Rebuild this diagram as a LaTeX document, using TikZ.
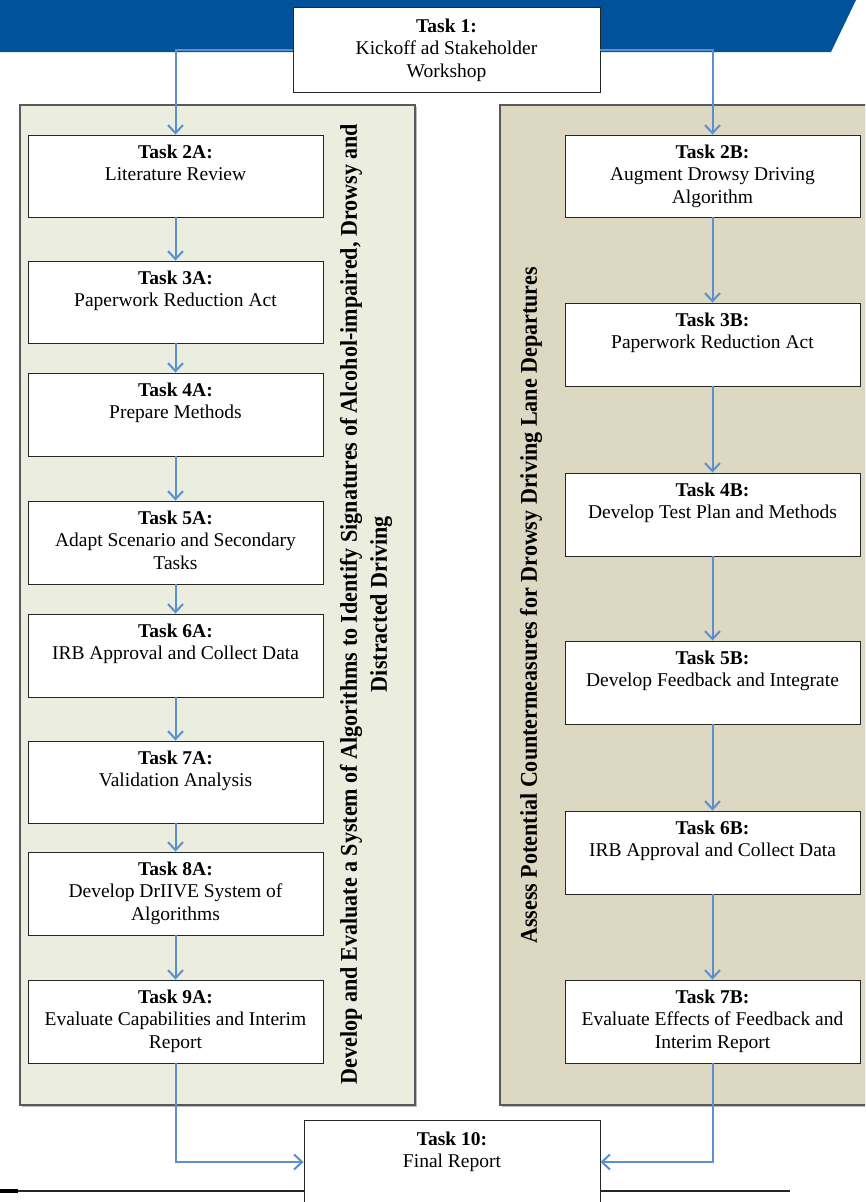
\documentclass[tikz,border=0pt]{standalone}
\usepackage{fontspec}
\setmainfont{Liberation Serif}
\newfontfamily\condserif[FakeStretch=0.92]{Liberation Serif}
\usetikzlibrary{arrows.meta,shadows}
\definecolor{banner}{HTML}{00529B}
\definecolor{panelA}{HTML}{EBEEDF}
\definecolor{panelB}{HTML}{DDD8C2}
\definecolor{arrowblue}{HTML}{5B8FD2}
\tikzset{
  panel/.style={draw=black!65, line width=1.2pt, drop shadow={shadow xshift=1.5pt, shadow yshift=-1.5pt, fill=black!45, opacity=0.6}},
  taskbox/.style={draw=black!85, line width=0.9pt, fill=white, inner sep=0pt,
     drop shadow={shadow xshift=1.2pt, shadow yshift=-1.2pt, fill=black!40, opacity=0.5},
     font=\fontsize{19.5}{22.5}\selectfont},
  flow/.style={draw=arrowblue, line width=2pt, -{Straight Barb[length=8pt,width=15pt,line width=2pt]}},
  vtitle/.style={rotate=90, align=center, font=\condserif\bfseries\fontsize{24}{30}\selectfont}
}
\begin{document}
\begin{tikzpicture}[x=1pt,y=-1pt]
\useasboundingbox (0,0) rectangle (865,1202);
\clip (0,0) rectangle (865,1202);
% banner
\fill[banner] (0,0) -- (856,0) -- (831,52) -- (0,52) -- cycle;
% panels
\path[panel, fill=panelA] (20,105) rectangle (415,1105);
\path[panel, fill=panelB] (500,105) rectangle (868,1105);
% bottom rule
\draw[black!85, line width=2.5pt] (0,1191) -- (790,1191);
\draw[black, line width=3.5pt] (0,1191) -- (18,1191);
% panel titles
\node[vtitle] (titleA) at (366,604)
  {Develop and Evaluate a System of Algorithms to Identify Signatures of Alcohol-impaired, Drowsy and\\ Distracted Driving};
\node[vtitle] (titleB) at (531,605.5)
  {Assess Potential Countermeasures for Drowsy Driving Lane Departures};
% Task 1 and Task 10
\node[taskbox] (t1) at (446.5,49.5)
  {\parbox[c][85pt][t]{307pt}{\centering\rule{0pt}{25pt}\textbf{Task 1:}\\Kickoff ad Stakeholder\\Workshop}};
\node[taskbox] (t10) at (452,1162)
  {\parbox[c][84pt][t]{296pt}{\centering\rule{0pt}{25pt}\textbf{Task 10:}\\Final Report}};
% left column
\node[taskbox] (t2a) at (175.5,176)
  {\parbox[c][82pt][t]{295pt}{\centering\rule{0pt}{23pt}\textbf{Task 2A:}\\Literature Review}};
\node[taskbox] (t3a) at (175.5,302)
  {\parbox[c][82pt][t]{295pt}{\centering\rule{0pt}{23pt}\textbf{Task 3A:}\\Paperwork Reduction Act}};
\node[taskbox] (t4a) at (175.5,414.5)
  {\parbox[c][83pt][t]{295pt}{\centering\rule{0pt}{23pt}\textbf{Task 4A:}\\Prepare Methods}};
\node[taskbox] (t5a) at (175.5,542.5)
  {\parbox[c][83pt][t]{295pt}{\centering\rule{0pt}{23pt}\textbf{Task 5A:}\\Adapt Scenario and Secondary\\Tasks}};
\node[taskbox] (t6a) at (175.5,655.5)
  {\parbox[c][83pt][t]{295pt}{\centering\rule{0pt}{23pt}\textbf{Task 6A:}\\IRB Approval and Collect Data}};
\node[taskbox] (t7a) at (175.5,782)
  {\parbox[c][82pt][t]{295pt}{\centering\rule{0pt}{23pt}\textbf{Task 7A:}\\Validation Analysis}};
\node[taskbox] (t8a) at (175.5,893.5)
  {\parbox[c][83pt][t]{295pt}{\centering\rule{0pt}{23pt}\textbf{Task 8A:}\\Develop DrIIVE System of\\Algorithms}};
\node[taskbox] (t9a) at (175.5,1021.5)
  {\parbox[c][83pt][t]{295pt}{\centering\rule{0pt}{23pt}\textbf{Task 9A:}\\Evaluate Capabilities and Interim\\Report}};
% right column
\node[taskbox] (t2b) at (712.5,176)
  {\parbox[c][82pt][t]{295pt}{\centering\rule{0pt}{23pt}\textbf{Task 2B:}\\Augment Drowsy Driving\\Algorithm}};
\node[taskbox] (t3b) at (712.5,344.5)
  {\parbox[c][83pt][t]{295pt}{\centering\rule{0pt}{23pt}\textbf{Task 3B:}\\Paperwork Reduction Act}};
\node[taskbox] (t4b) at (712.5,514.5)
  {\parbox[c][83pt][t]{295pt}{\centering\rule{0pt}{23pt}\textbf{Task 4B:}\\Develop Test Plan and Methods}};
\node[taskbox] (t5b) at (712.5,682.5)
  {\parbox[c][83pt][t]{295pt}{\centering\rule{0pt}{23pt}\textbf{Task 5B:}\\Develop Feedback and Integrate}};
\node[taskbox] (t6b) at (712.5,852.5)
  {\parbox[c][83pt][t]{295pt}{\centering\rule{0pt}{23pt}\textbf{Task 6B:}\\IRB Approval and Collect Data}};
\node[taskbox] (t7b) at (712.5,1021.5)
  {\parbox[c][83pt][t]{295pt}{\centering\rule{0pt}{23pt}\textbf{Task 7B:}\\Evaluate Effects of Feedback and\\Interim Report}};
% connectors
\draw[flow] (t1.west) -| (t2a.north);
\draw[flow] (t1.east) -| (t2b.north);
\foreach \a/\b in {t2a/t3a,t3a/t4a,t4a/t5a,t5a/t6a,t6a/t7a,t7a/t8a,t8a/t9a,
                   t2b/t3b,t3b/t4b,t4b/t5b,t5b/t6b,t6b/t7b}
  \draw[flow] (\a.south) -- (\b.north);
\draw[flow] (t9a.south) |- (t10.west);
\draw[flow] (t7b.south) |- (t10.east);
\end{tikzpicture}
\end{document}
